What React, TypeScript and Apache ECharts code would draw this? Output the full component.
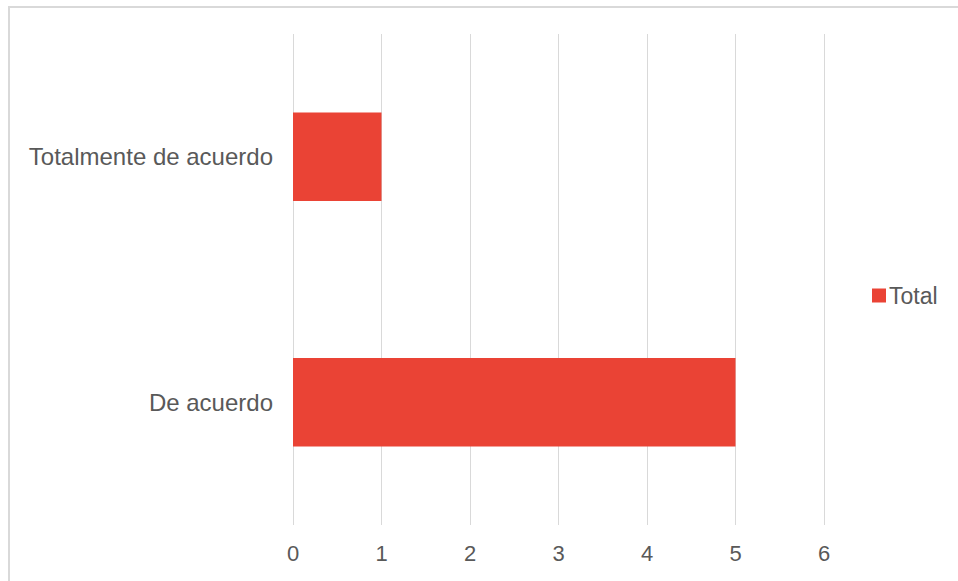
import React, { useEffect, useRef } from "react";
import * as echarts from "echarts";

const categories = ["De acuerdo", "Totalmente de acuerdo"];
const totals = [5, 1];
const xTicks = [0, 1, 2, 3, 4, 5, 6];
const seriesName = "Total";

const FONT = "'Liberation Sans', Arial, sans-serif";
const TEXT = "#595959";

export default function App() {
  const ref = useRef<HTMLDivElement>(null);

  useEffect(() => {
    if (!ref.current) return;
    const chart = echarts.init(ref.current, undefined, { renderer: "svg" });
    chart.setOption({
      animation: false,
      backgroundColor: "#ffffff",
      textStyle: { fontFamily: FONT },
      graphic: [
        {
          type: "rect",
          shape: { x: 9, y: 7, width: 1200, height: 1200 },
          style: { fill: "none", stroke: "#d9d9d9", lineWidth: 2 },
          silent: true,
        },
      ],
      grid: { left: 293, right: 134, top: 34, bottom: 56, containLabel: false },
      legend: {
        orient: "vertical",
        left: 867,
        top: 279,
        itemWidth: 14,
        itemHeight: 14,
        itemGap: 4,
        icon: "rect",
        data: [seriesName],
        textStyle: { color: TEXT, fontSize: 23, fontFamily: FONT, padding: [0, 0, 0, -2] },
      },
      xAxis: {
        type: "value",
        min: xTicks[0],
        max: xTicks[xTicks.length - 1],
        interval: 1,
        axisLine: { show: false },
        axisTick: { show: false },
        splitLine: { show: true, lineStyle: { color: "#d9d9d9", width: 1 } },
        axisLabel: { color: TEXT, fontSize: 22, fontFamily: FONT, margin: 17 },
      },
      yAxis: {
        type: "category",
        data: categories,
        axisLine: { show: false },
        axisTick: { show: false },
        splitLine: { show: false },
        axisLabel: { color: TEXT, fontSize: 24, fontFamily: FONT, margin: 20 },
      },
      series: [
        {
          name: seriesName,
          type: "bar",
          data: totals,
          barWidth: "36%",
          itemStyle: { color: "#ea4335" },
        },
      ],
    });
    return () => chart.dispose();
  }, []);

  return (
    <div
      ref={ref}
      style={{ position: "fixed", left: 0, top: 0, width: 958, height: 581 }}
    />
  );
}
